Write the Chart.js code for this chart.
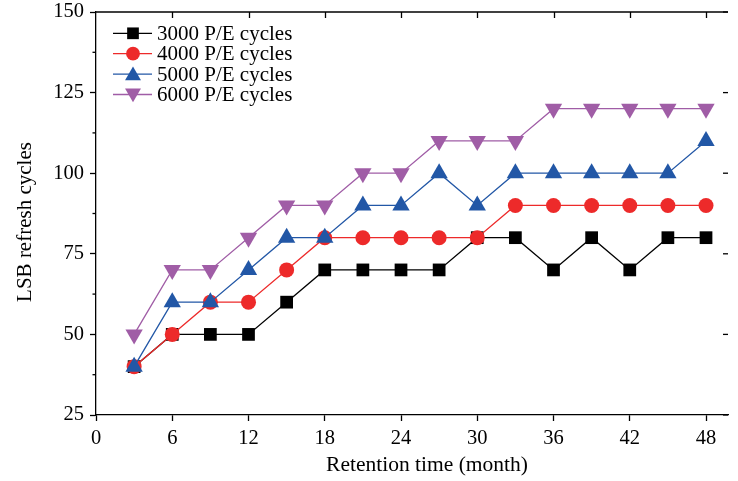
<!DOCTYPE html>
<html>
<head>
<meta charset="utf-8">
<script src="https://cdn.jsdelivr.net/npm/chart.js@4/dist/chart.umd.min.js"></script>
<style>
html,body{margin:0;padding:0;background:#fff;overflow:hidden;}
#wrap{width:738px;height:481px;}
</style>
</head>
<body>
<div id="wrap"><canvas id="c" width="738" height="481"></canvas></div>
<script>
// ---- data ----
const months = [3, 6, 9, 12, 15, 18, 21, 24, 27, 30, 33, 36, 39, 42, 45, 48];
const pe3000 = [40, 50, 50, 50, 60, 70, 70, 70, 70, 80, 80, 70, 80, 70, 80, 80];
const pe4000 = [40, 50, 60, 60, 70, 80, 80, 80, 80, 80, 90, 90, 90, 90, 90, 90];
const pe5000 = [40, 60, 60, 70, 80, 80, 90, 90, 100, 90, 100, 100, 100, 100, 100, 110];
const pe6000 = [50, 70, 70, 80, 90, 90, 100, 100, 110, 110, 110, 120, 120, 120, 120, 120];
const seriesLabels = ['3000 P/E cycles', '4000 P/E cycles', '5000 P/E cycles', '6000 P/E cycles'];
const xTicks = [0, 6, 12, 18, 24, 30, 36, 42, 48];
const yTicks = [25, 50, 75, 100, 125, 150];
const yMinorTicks = [37.5, 62.5, 87.5, 112.5, 137.5];
const xTitle = 'Retention time (month)';
const yTitle = 'LSB refresh cycles';

const FONT = "'Liberation Serif', 'Times New Roman', serif";
const toXY = vals => months.map((m, i) => ({x: m, y: vals[i]}));

const styles = [
  {color: '#000000', pointStyle: 'rect', radius: 9, rotation: 0},
  {color: '#ED2A2A', pointStyle: 'circle', radius: 7.5, rotation: 0},
  {color: '#2257A6', pointStyle: 'triangle', radius: 10, rotation: 0},
  {color: '#A05DA6', pointStyle: 'triangle', radius: 10, rotation: 180}
];
const allSeries = [pe3000, pe4000, pe5000, pe6000];

const datasets = allSeries.map((vals, i) => ({
  label: seriesLabels[i],
  data: toXY(vals),
  showLine: true,
  borderColor: styles[i].color,
  backgroundColor: styles[i].color,
  borderWidth: 1.3,
  pointStyle: styles[i].pointStyle,
  pointRadius: styles[i].radius,
  pointHoverRadius: styles[i].radius,
  pointRotation: styles[i].rotation,
  pointBorderWidth: 0,
  pointBackgroundColor: styles[i].color,
  order: 4 - i,
  tension: 0
}));

const frameLegendPlugin = {
  id: 'frameLegend',
  afterDraw(chart) {
    const ctx = chart.ctx;
    const ca = chart.chartArea;
    const xs = chart.scales.x, ys = chart.scales.y;
    ctx.save();
    ctx.strokeStyle = '#000';
    ctx.lineWidth = 1.3;
    // top axis line
    ctx.beginPath();
    ctx.moveTo(ca.left, ca.top);
    ctx.lineTo(ca.right, ca.top);
    ctx.stroke();
    // top inward ticks
    xTicks.forEach(v => {
      if (v === 0) return;
      const px = Math.round(xs.getPixelForValue(v)) + 0.5;
      ctx.beginPath();
      ctx.moveTo(px, ca.top);
      ctx.lineTo(px, ca.top + 6);
      ctx.stroke();
    });
    // right inward ticks
    yTicks.forEach(v => {
      const py = ys.getPixelForValue(v);
      ctx.beginPath();
      ctx.moveTo(ca.right, py);
      ctx.lineTo(ca.right - 5, py);
      ctx.stroke();
    });
    // left minor outward ticks
    yMinorTicks.forEach(v => {
      const py = ys.getPixelForValue(v);
      ctx.beginPath();
      ctx.moveTo(ca.left, py);
      ctx.lineTo(ca.left - 3.5, py);
      ctx.stroke();
    });
    // axis titles
    ctx.fillStyle = '#000';
    ctx.font = '21.5px ' + FONT;
    ctx.textAlign = 'center';
    ctx.textBaseline = 'alphabetic';
    ctx.fillText(xTitle, 427, 471);
    ctx.font = '21px ' + FONT;
    ctx.save();
    ctx.translate(31, 222);
    ctx.rotate(-Math.PI / 2);
    ctx.fillText(yTitle, 0, 0);
    ctx.restore();
    // legend
    const lx0 = ca.left + 17, lx1 = ca.left + 56, lxm = ca.left + 37, tx = ca.left + 61;
    const rowY0 = ca.top + 21.3, rowStep = 20.4;
    ctx.textAlign = 'left';
    ctx.textBaseline = 'middle';
    ctx.font = '21px ' + FONT;
    chart.data.datasets.forEach((ds, i) => {
      const y = rowY0 + i * rowStep;
      ctx.strokeStyle = ds.borderColor;
      ctx.lineWidth = 1.3;
      ctx.beginPath();
      ctx.moveTo(lx0, y);
      ctx.lineTo(lx1, y);
      ctx.stroke();
      ctx.fillStyle = ds.pointBackgroundColor;
      ctx.strokeStyle = ds.pointBackgroundColor;
      Chart.helpers.drawPoint(ctx, {
        pointStyle: ds.pointStyle,
        rotation: ds.pointRotation,
        radius: ds.pointRadius * 0.92,
        borderWidth: 0
      }, lxm, y + (ds.pointStyle === 'triangle' ? (ds.pointRotation ? -1.5 : 1.5) : 0));
      ctx.fillStyle = '#000';
      ctx.fillText(ds.label, tx, y + 1);
    });
    ctx.restore();
  }
};

new Chart(document.getElementById('c'), {
  type: 'scatter',
  data: {datasets},
  options: {
    responsive: false,
    animation: false,
    devicePixelRatio: 1,
    layout: {padding: {top: 12, right: 0, left: 0, bottom: 0}},
    plugins: {legend: {display: false}, tooltip: {enabled: false}},
    scales: {
      x: {
        type: 'linear',
        min: 0,
        max: 49.73,
        afterBuildTicks: s => { s.ticks = xTicks.map(v => ({value: v})); },
        afterFit: s => { s.height = 66; s.paddingLeft = 0; s.paddingRight = 0; },
        grid: {drawOnChartArea: false, drawTicks: true, tickLength: 6, tickWidth: 1.3, tickColor: '#000'},
        border: {display: true, color: '#000', width: 1.3},
        ticks: {color: '#000', font: {family: FONT, size: 20.5}, padding: 5, maxRotation: 0, autoSkip: false}
      },
      y: {
        type: 'linear',
        min: 25,
        max: 150,
        afterBuildTicks: s => { s.ticks = yTicks.map(v => ({value: v})); },
        afterFit: s => { s.width = 96; s.paddingTop = 0; s.paddingBottom = 0; },
        grid: {drawOnChartArea: false, drawTicks: true, tickLength: 6, tickWidth: 1.3, tickColor: '#000'},
        border: {display: true, color: '#000', width: 1.3},
        ticks: {color: '#000', font: {family: FONT, size: 20.5}, padding: 6, autoSkip: false}
      }
    }
  },
  plugins: [frameLegendPlugin]
});
</script>
</body>
</html>
